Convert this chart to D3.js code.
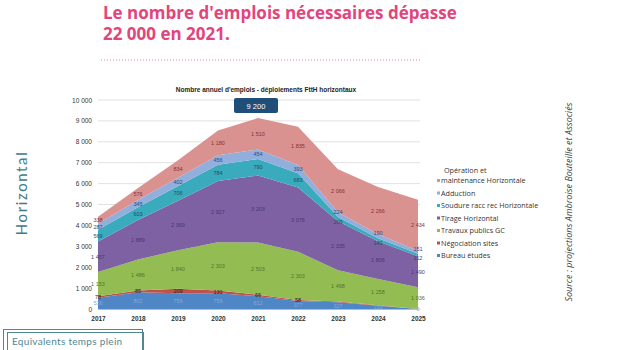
<!DOCTYPE html>
<html>
<head>
<meta charset="utf-8">
<script src="https://cdn.jsdelivr.net/npm/d3@7"></script>
<style>
  body { margin: 0; background: #fff; }
  svg { display: block; }
</style>
</head>
<body>
<div id="chart"></div>
<script>
// annual jobs - horizontal FttH deployments, stacked from bottom to top
var years = [2017, 2018, 2019, 2020, 2021, 2022, 2023, 2024, 2025];
var bureauEtudes = [536, 802, 759, 759, 612, 377, 327, 159, 0];
var negociationSites = [78, 85, 209, 131, 66, 58, 33, 20, 0];
var travauxPublicsGC = [1153, 1486, 1840, 2303, 2503, 2303, 1498, 1258, 1036];
var tirageHorizontal = [1457, 1889, 2369, 2927, 3203, 3076, 2335, 1806, 1490];
var soudureRacc = [569, 603, 706, 784, 790, 683, 209, 141, 112];
var adduction = [287, 345, 402, 456, 454, 393, 224, 190, 151];
var operationMaintenance = [338, 576, 834, 1180, 1510, 1835, 2066, 2266, 2434];
var yTicks = [0, 1000, 2000, 3000, 4000, 5000, 6000, 7000, 8000, 9000, 10000];
var peakLabel = "9 200";

var series = [
    {key: "bureau", name: "Bureau études", values: bureauEtudes, color: "#4f86c6", text: "#86a9d8"},
    {key: "nego", name: "Négociation sites", values: negociationSites, color: "#c0504d", text: "#222"},
    {key: "gc", name: "Travaux publics GC", values: travauxPublicsGC, color: "#93bd52", text: "#55732c"},
    {key: "tirage", name: "Tirage Horizontal", values: tirageHorizontal, color: "#7e61a3", text: "#4a3670"},
    {key: "soudure", name: "Soudure racc rec Horizontale", values: soudureRacc, color: "#3aaabd", text: "#1c4f66"},
    {key: "adduction", name: "Adduction", values: adduction, color: "#92aedc", text: "#2d4d85"},
    {key: "om", name: "maintenance Horizontale", values: operationMaintenance, color: "#d99290", text: "#8a3030"}
];

var table = years.map(function(y, i) {
    var row = {year: y};
    series.forEach(function(s) { row[s.key] = s.values[i]; });
    return row;
});

var W = 620, H = 350;
var svg = d3.select("#chart").append("svg")
    .attr("width", W).attr("height", H);

var pink = "#e2457c";
var title = svg.append("g").attr("font-family", "'Open Sans', sans-serif")
    .attr("font-weight", 700).attr("font-size", 17).attr("fill", pink);
title.append("text").attr("x", 103).attr("y", 19).text("Le nombre d'emplois nécessaires dépasse");
title.append("text").attr("x", 103).attr("y", 40).text("22 000 en 2021.");
svg.append("line")
    .attr("x1", 101).attr("x2", 420).attr("y1", 60).attr("y2", 60)
    .attr("stroke", pink).attr("stroke-width", 1).attr("stroke-dasharray", "1,2")
    .attr("opacity", 0.7);

// scales
var x = d3.scaleLinear().domain([2017, 2025]).range([98, 418]);
var y = d3.scaleLinear().domain([0, 10000]).range([309, 100]);

// grid
svg.append("g").selectAll("line").data(yTicks).enter().append("line")
    .attr("x1", 98).attr("x2", 420)
    .attr("y1", function(d) { return y(d); }).attr("y2", function(d) { return y(d); })
    .attr("stroke", "#d9d9d9").attr("stroke-width", 0.8);

var yAxis = d3.axisLeft(y).tickValues(yTicks).tickSize(0).tickPadding(6)
    .tickFormat(function(d) { return d3.format(",")(d).replace(",", " "); });
var yg = svg.append("g").attr("transform", "translate(98,0)").call(yAxis);
yg.select(".domain").remove();
yg.selectAll("text").attr("font-family", "'Liberation Sans', Arial, sans-serif")
    .attr("font-size", 6.5).attr("fill", "#333");

var stack = d3.stack().keys(series.map(function(s) { return s.key; }));
var layers = stack(table);

var area = d3.area()
    .x(function(d) { return x(d.data.year); })
    .y0(function(d) { return y(d[0]); })
    .y1(function(d) { return y(d[1]); });

svg.append("g").selectAll("path").data(layers).enter().append("path")
    .attr("d", area)
    .attr("fill", function(d, i) { return series[i].color; });

var xAxis = d3.axisBottom(x).tickValues(years).tickSize(0).tickPadding(7).tickFormat(d3.format("d"));
var xg = svg.append("g").attr("transform", "translate(0,309)").call(xAxis);
xg.select(".domain").attr("stroke", "#bbb");
xg.selectAll("text").attr("font-family", "'Liberation Sans', Arial, sans-serif")
    .attr("font-size", 6.5).attr("font-weight", 700).attr("fill", "#333");

// data labels in the middle of each band (thin teal/adduction pairs pushed apart)
layers.forEach(function(layer, i) {
    var key = series[i].key;
    svg.append("g").selectAll("text").data(layer.filter(function(d) {
            var v = d[1] - d[0];
            return v >= 40 || (key == "bureau" && v == 0);
        }))
        .enter().append("text")
        .attr("x", function(d) { return x(d.data.year); })
        .attr("y", function(d) {
            var v = d[1] - d[0], shift = 0;
            if (v < 250 && key == "adduction") shift = -3;
            if (v < 250 && key == "soudure") shift = 3;
            return y((d[0] + d[1]) / 2) + shift;
        })
        .attr("dy", "0.35em")
        .attr("text-anchor", "middle")
        .attr("font-family", "'Liberation Sans', Arial, sans-serif")
        .attr("font-size", 5.5)
        .attr("fill", series[i].text)
        .text(function(d) { return d3.format(",")(d[1] - d[0]).replace(",", " "); });
});

// chart title and peak box
svg.append("text").attr("x", 266).attr("y", 92).attr("text-anchor", "middle")
    .attr("font-family", "'Liberation Sans', Arial, sans-serif").attr("font-size", 6.5)
    .attr("font-weight", 700).attr("fill", "#222")
    .text("Nombre annuel d'emplois - déploiements FttH horizontaux");
svg.append("rect").attr("x", 234).attr("y", 98).attr("width", 44).attr("height", 15)
    .attr("rx", 2).attr("fill", "#1f4e79");
svg.append("text").attr("x", 256).attr("y", 108.5).attr("text-anchor", "middle")
    .attr("font-family", "'Liberation Sans', Arial, sans-serif").attr("font-size", 7.5)
    .attr("fill", "#fff").text(peakLabel);

// legend
var legend = svg.append("g").attr("font-family", "'Open Sans', sans-serif")
    .attr("font-size", 7.2).attr("fill", "#333");
legend.append("text").attr("x", 444).attr("y", 173).text("Opération et");
var legendRows = series.slice().reverse();
legendRows.forEach(function(s, i) {
    var ly = 183 + i * 12.5;
    legend.append("rect").attr("x", 437).attr("y", ly - 4).attr("width", 3).attr("height", 3)
        .attr("fill", s.color);
    legend.append("text").attr("x", 441).attr("y", ly).text(s.name);
});

// side texts
svg.append("text").attr("transform", "translate(27,193) rotate(-90)")
    .attr("text-anchor", "middle").attr("font-family", "Lato, sans-serif")
    .attr("font-weight", 400).attr("font-size", 15).attr("letter-spacing", 1.6)
    .attr("fill", "#3f7b88").text("Horizontal");
svg.append("text").attr("transform", "translate(572,202) rotate(-90)")
    .attr("text-anchor", "middle").attr("font-family", "'Open Sans', sans-serif")
    .attr("font-style", "italic").attr("font-size", 9).attr("fill", "#444")
    .text("Source : projections Ambroise Bouteille et Associés");

// bottom-left box
svg.append("rect").attr("x", 3.5).attr("y", 329.5).attr("width", 139).attr("height", 25)
    .attr("fill", "none").attr("stroke", "#4f8794").attr("stroke-width", 1);
svg.append("rect").attr("x", 7.5).attr("y", 332.5).attr("width", 136).attr("height", 25)
    .attr("fill", "none").attr("stroke", "#4f8794").attr("stroke-width", 1);
svg.append("text").attr("x", 12).attr("y", 345).attr("font-family", "Lato, sans-serif")
    .attr("font-size", 10).attr("letter-spacing", 0.3).attr("fill", "#4f8794")
    .text("Equivalents temps plein");
</script>
</body>
</html>
